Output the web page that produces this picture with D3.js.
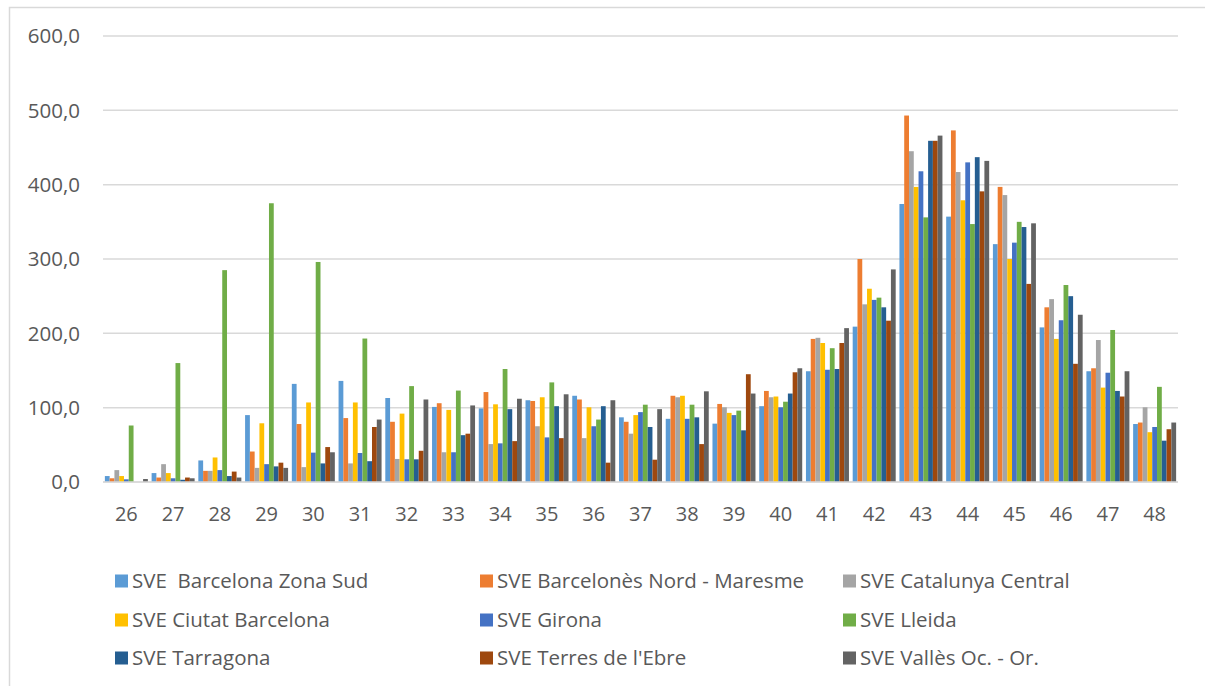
<!DOCTYPE html>
<meta charset="utf-8">
<title>SVE chart</title>
<style>
  body { margin: 0; background: #fff; }
  svg text { font-family: "Open Sans", "DejaVu Sans", sans-serif; fill: #595959; }
</style>
<svg id="chart"></svg>
<script src="https://d3js.org/d3.v7.min.js"></script>
<script>
  // categories (week numbers)
  var weeks = ["26","27","28","29","30","31","32","33","34","35","36","37","38","39","40","41","42","43","44","45","46","47","48"];

  var seriesNames = ["SVE  Barcelona Zona Sud", "SVE Barcelonès Nord - Maresme", "SVE Catalunya Central",
                     "SVE Ciutat Barcelona", "SVE Girona", "SVE Lleida",
                     "SVE Tarragona", "SVE Terres de l'Ebre", "SVE Vallès Oc. - Or."];

  // values
  var bcnSud     = [8,12,29,90,132,136,113,101,99,110,116,87,85,78.5,102,149,209,374,357,320,208,149,78];
  var bcnNord    = [5,6,15,41,78,86,81,106,121,109,111,81,116,105,122.5,192.5,300,493,473,397,235,153,80];
  var catCentral = [16,24,15,19,20,25,31,40,51,75,59,65,114,100.5,114,194,239,445,417,386,246,191,100.5];
  var ciutatBcn  = [8,12,33,79,107,107,92,97,104.5,114,100.5,90,116,93,115,187,260,397,379,300,192.5,127,67];
  var girona     = [3.6,5,16,24,39.5,39,30.5,40,52,60,75,94,85,90,100.5,151,245,418,430,322,217.6,147,74];
  var lleida     = [76,160,285,375,296,193,129,123,152,134,84,104,104,96,108,180,248,356,347,350,265,204.5,128];
  var tarragona  = [0,3,8,21,25,28,30.5,63,98,102,102,74,87,69.5,119,152,235,459,437,343,250,122.5,55.6];
  var terres     = [0,6,14,26,47,74,42,65,55,59,26,30,51,145,147.6,187,217,459,391,266.5,159,115,71];
  var valles     = [4,5,6,19,40,84,111,103,112,118,110,98,122,119,153,207,286,466,432,348,225,149,80];

  var yTicks = [0,100,200,300,400,500,600];

  var allSeries = [bcnSud, bcnNord, catCentral, ciutatBcn, girona, lleida, tarragona, terres, valles];
  var colors = ["#5B9BD5","#ED7D31","#A5A5A5","#FFC000","#4472C4","#70AD47","#255E91","#9E480E","#636363"];

  var width = 1205, height = 686;
  var svg = d3.select("#chart").attr("width", width).attr("height", height);

  // outer frame
  svg.append("rect")
    .attr("x", 9.5).attr("y", 7.5)
    .attr("width", 1220).attr("height", 700)
    .attr("fill", "none").attr("stroke", "#d9d9d9").attr("stroke-width", 1.5);

  var x = d3.scaleBand().domain(weeks).range([103, 1178]).paddingInner(0.08).paddingOuter(0.04);
  var xs = d3.scaleBand().domain(d3.range(seriesNames.length)).range([0, x.bandwidth()]);
  var y = d3.scaleLinear().domain([0, 600]).range([482, 36]);

  // gridlines
  svg.append("g").selectAll("line")
    .data(yTicks)
    .join("line")
    .attr("x1", 103).attr("x2", 1178)
    .attr("y1", function(d) { return y(d); })
    .attr("y2", function(d) { return y(d); })
    .attr("stroke", "#d9d9d9").attr("stroke-width", 1.5);

  // y labels
  var fmt = function(d) { return d3.format(".1f")(d).replace(".", ","); };
  svg.append("g").selectAll("text")
    .data(yTicks)
    .join("text")
    .attr("x", 80)
    .attr("y", function(d) { return y(d); })
    .attr("dy", "0.36em")
    .attr("text-anchor", "end")
    .style("font-size", "20.5px")
    .text(fmt);

  // bars
  var groups = svg.append("g").selectAll("g")
    .data(allSeries)
    .join("g")
    .attr("fill", function(d, i) { return colors[i]; });

  groups.each(function(vals, si) {
    d3.select(this).selectAll("rect")
      .data(vals)
      .join("rect")
      .attr("x", function(d, i) { return x(weeks[i]) + xs(si); })
      .attr("width", xs.bandwidth())
      .attr("y", function(d) { return y(d); })
      .attr("height", function(d) { return y(0) - y(d); });
  });

  // baseline
  svg.append("line")
    .attr("x1", 103).attr("x2", 1178)
    .attr("y1", y(0)).attr("y2", y(0))
    .attr("stroke", "#d9d9d9").attr("stroke-width", 1.5);

  // x labels
  svg.append("g").selectAll("text")
    .data(weeks)
    .join("text")
    .attr("x", function(d) { return x(d) + x.bandwidth() / 2; })
    .attr("y", 521)
    .attr("text-anchor", "middle")
    .style("font-size", "20px")
    .text(function(d) { return d; });

  // legend (3 columns)
  var legendX = [115, 480, 843];
  var legendY = [581, 620, 658];
  var leg = svg.append("g").selectAll("g")
    .data(seriesNames)
    .join("g")
    .attr("transform", function(d, i) {
      return "translate(" + legendX[i % 3] + "," + legendY[Math.floor(i / 3)] + ")";
    });
  leg.append("rect")
    .attr("x", 0).attr("y", -6.5)
    .attr("width", 13).attr("height", 13)
    .attr("fill", function(d, i) { return colors[i]; });
  leg.append("text")
    .attr("x", 17)
    .attr("dy", "0.36em")
    .style("font-size", "20.5px")
    .style("white-space", "pre")
    .text(function(d) { return d; });
</script>
